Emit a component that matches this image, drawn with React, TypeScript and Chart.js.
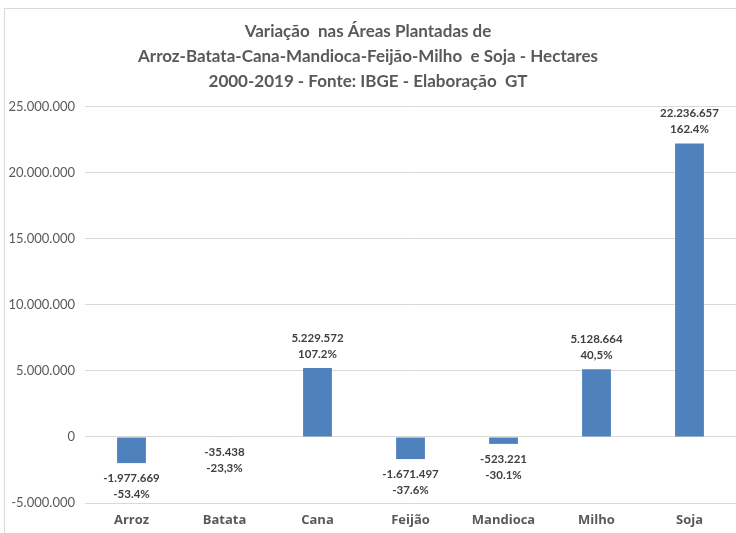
import React, { useEffect, useRef } from "react";
import { Chart, registerables } from "chart.js";

Chart.register(...registerables);

const categories = ["Arroz", "Batata", "Cana", "Feijão", "Mandioca", "Milho", "Soja"];
const values = [-1977669, -35438, 5229572, -1671497, -523221, 5128664, 22236657];
const percentLabels = ["-53.4%", "-23,3%", "107.2%", "-37.6%", "-30.1%", "40,5%", "162.4%"];
const titleLines = [
  "Variação  nas Áreas Plantadas de",
  "Arroz-Batata-Cana-Mandioca-Feijão-Milho  e Soja - Hectares",
  "2000-2019 - Fonte: IBGE - Elaboração  GT",
];

const FONT = "Lato, 'Open Sans', sans-serif";

function fmt(n: number): string {
  const s = Math.abs(Math.round(n)).toString().replace(/\B(?=(\d{3})+(?!\d))/g, ".");
  return (n < 0 ? "-" : "") + s;
}

const borderPlugin = {
  id: "outerBorder",
  beforeDraw(chart: any) {
    const ctx = chart.ctx;
    ctx.save();
    ctx.strokeStyle = "#d9d9d9";
    ctx.lineWidth = 1;
    ctx.strokeRect(4.5, 8.5, 900, 700);
    ctx.restore();
  },
};

const labelPlugin = {
  id: "barLabels",
  afterDatasetsDraw(chart: any) {
    const ctx = chart.ctx;
    const meta = chart.getDatasetMeta(0);
    ctx.save();
    ctx.font = `bold 11.5px ${FONT}`;
    ctx.fillStyle = "#404040";
    ctx.textAlign = "center";
    ctx.textBaseline = "middle";
    meta.data.forEach((bar: any, i: number) => {
      const v = values[i];
      const x = bar.x;
      if (v >= 0) {
        ctx.fillText(fmt(v), x, bar.y - 30);
        ctx.fillText(percentLabels[i], x, bar.y - 14);
      } else {
        ctx.fillText(fmt(v), x, bar.y + 15);
        ctx.fillText(percentLabels[i], x, bar.y + 31);
      }
    });
    ctx.restore();
  },
};

export default function App() {
  const ref = useRef<HTMLCanvasElement | null>(null);
  useEffect(() => {
    document.body.style.margin = "0";
    const chart = new Chart(ref.current as HTMLCanvasElement, {
      type: "bar",
      data: {
        labels: categories,
        datasets: [
          {
            data: values,
            backgroundColor: "#4f81bd",
            barPercentage: 1,
            categoryPercentage: 0.31,
          },
        ],
      },
      options: {
        animation: false,
        responsive: false,
        layout: { padding: { top: 0, right: 0, bottom: 0, left: 0 } },
        plugins: {
          legend: { display: false },
          tooltip: { enabled: false },
          title: {
            display: true,
            text: titleLines,
            color: "#595959",
            font: { family: FONT, size: 17, weight: "bold", lineHeight: 1.47 },
            padding: { top: 19, bottom: 13 },
          },
        },
        scales: {
          x: {
            grid: { display: false, drawTicks: false },
            border: { display: false },
            afterFit: (scale: any) => {
              scale.height = 30;
            },
            ticks: {
              color: "#595959",
              font: { family: "'Open Sans', Lato, sans-serif", size: 13, weight: "bold" },
              padding: 9,
            },
          },
          y: {
            min: -5000000,
            max: 25000000,
            border: { display: false },
            grid: { color: "#d9d9d9", drawTicks: false },
            afterFit: (scale: any) => {
              scale.width = 85;
            },
            ticks: {
              stepSize: 5000000,
              color: "#595959",
              font: { family: FONT, size: 13 },
              padding: 10,
              callback: (v: any) => fmt(Number(v)),
            },
          },
        },
      },
      plugins: [borderPlugin, labelPlugin],
    });
    return () => chart.destroy();
  }, []);
  return <canvas ref={ref} width={736} height={533} style={{ display: "block" }} />;
}
